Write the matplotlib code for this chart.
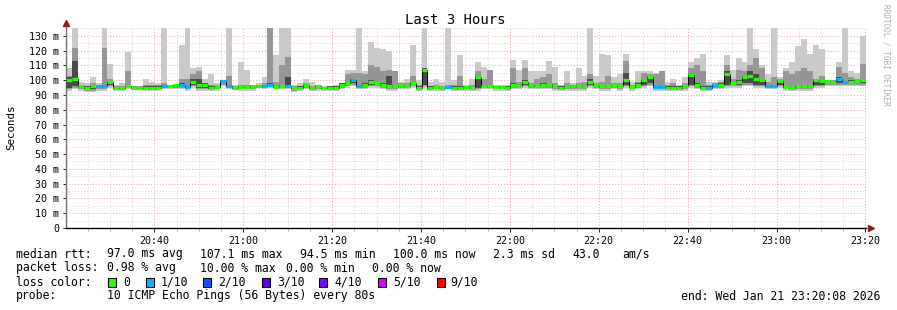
import numpy as np
import matplotlib
matplotlib.use("Agg")
import matplotlib.pyplot as plt
from matplotlib.patches import Rectangle

plt.rcParams['font.family'] = ['DejaVu Sans Mono']

# one sample every 80 s, 20:20:08 -> 23:20:08
step_min = 80 / 60.0
t_start = 20 * 60 + 20 + 8 / 60.0

# median rtt (ms)
med = [100, 101, 96, 95, 96, 96, 96, 98.5, 94.5, 94.5, 96, 95, 95, 95, 95, 95, 96, 96, 96.5, 97,
       95.5, 98.5, 97, 97, 95, 95.5, 99.5, 96, 95, 95.5, 95.5, 96, 96, 96, 97, 95.5, 96, 96, 94.5, 95,
       96.5, 94.5, 96, 94.5, 95, 95, 97, 98, 100, 96, 97, 99, 98, 97, 96, 96, 96.5, 96, 98, 95,
       107, 95, 95.5, 94.5, 95.5, 95, 94.5, 95.5, 94.5, 102, 96, 96, 95.5, 95.5, 95, 97, 96, 99, 96.5, 96,
       97, 97.5, 96, 95, 96, 96, 96, 96, 99, 96.5, 96, 96, 96.5, 96, 100, 95.5, 97, 100, 102.5, 95.5,
       95.5, 95, 95, 95, 96, 103.5, 97, 95, 95, 96.5, 97, 104, 98, 99, 102.5, 103, 101, 100, 96, 96,
       99.5, 95.5, 94.5, 96, 96, 96, 100, 99.5, 99.5, 98.5, 101, 98.5, 99, 99.5, 100]

# lost pings out of 10 per sample
loss = [0] * 135
for i in [5, 6, 16, 19, 20, 26, 27, 33, 34, 37, 48, 49, 64, 99, 100, 108, 109, 118, 119, 130, 131]:
    loss[i] = 1

# smoke: fastest ping, slowest ping, and two inner band tops
lo = [93, 94, 93, 92, 92, 93, 93, 95, 93, 93, 94, 94, 94, 93, 93, 93, 94, 94, 94, 94,
      93, 95, 93, 93, 93, 93, 96, 94, 94, 93, 93, 93, 95, 94, 95, 94, 94, 94, 92, 93,
      94, 93, 93, 93, 93, 93, 94, 95, 96, 94, 94, 95, 95, 94, 93, 93, 94, 94, 95, 93,
      95, 93, 93, 93, 94, 93, 93, 93, 93, 93, 94, 94, 93, 93, 93, 94, 94, 95, 94, 94,
      94, 94, 93, 93, 93, 93, 93, 93, 95, 94, 93, 93, 94, 93, 95, 93, 94, 95, 96, 93,
      93, 93, 93, 93, 93, 95, 94, 93, 93, 94, 94, 95, 95, 95, 96, 96, 95, 95, 94, 94,
      95, 93, 93, 93, 93, 93, 95, 95, 96, 96, 96, 96, 96, 96, 96]
hi = [108, 135, 99, 98, 102, 98, 135, 111, 97, 98, 119, 96, 96, 101, 99, 98, 135, 96, 97, 124,
      135, 108, 109, 101, 104, 98, 99, 135, 97, 112, 107, 97, 98, 102, 135, 117, 135, 135, 97, 98,
      101, 99, 97, 96, 96, 97, 98, 107, 107, 135, 106, 126, 122, 121, 120, 106, 99, 101, 124, 100,
      135, 99, 101, 99, 135, 100, 117, 97, 101, 112, 109, 107, 97, 97, 97, 114, 107, 114, 106, 106,
      106, 113, 109, 97, 106, 98, 108, 103, 135, 103, 118, 117, 102, 104, 118, 99, 106, 106, 106, 105,
      106, 99, 101, 97, 102, 112, 115, 118, 99, 99, 100, 117, 107, 115, 112, 135, 121, 110, 104, 135,
      102, 108, 112, 123, 128, 118, 124, 121, 100, 100, 112, 135, 106, 105, 130]
hi2 = [103, 122, 97, 96, 98, 97, 122, 101, 96, 96, 106, 96, 96, 97, 97, 97, 98, 96, 97, 101,
       101, 104, 106, 98, 97, 97, 99, 103, 96, 97, 97, 97, 97, 98, 135, 99, 110, 116, 96, 96,
       98, 96, 97, 95, 96, 96, 98, 104, 105, 105, 104, 110, 109, 106, 107, 106, 98, 98, 103, 97,
       108, 96, 97, 96, 97, 97, 103, 96, 97, 106, 101, 107, 96, 96, 96, 108, 99, 108, 98, 101,
       102, 104, 98, 96, 98, 97, 98, 99, 104, 98, 99, 103, 98, 98, 113, 97, 99, 105, 104, 104,
       106, 97, 98, 96, 98, 108, 110, 106, 97, 98, 99, 110, 101, 107, 106, 110, 115, 108, 99, 102,
       101, 106, 104, 106, 108, 106, 101, 103, 100, 100, 109, 105, 102, 101, 111]
hi3 = [102, 113, 97, 96, 97, 97, 97, 99, 95, 95, 97, 96, 96, 96, 96, 96, 97, 97, 97, 98,
       96, 101, 101, 98, 96, 96, 100, 97, 96, 96, 96, 97, 97, 97, 98, 96, 97, 102, 95, 96,
       97, 95, 97, 95, 96, 96, 98, 99, 101, 97, 98, 100, 99, 98, 103, 97, 97, 97, 99, 96,
       108, 96, 96, 95, 96, 96, 96, 96, 95, 103, 97, 97, 96, 96, 96, 98, 97, 100, 97, 97,
       98, 98, 97, 96, 97, 97, 97, 97, 101, 97, 97, 97, 97, 97, 105, 96, 98, 101, 103, 96,
       96, 96, 96, 96, 97, 104, 98, 96, 96, 97, 98, 106, 99, 100, 103, 106, 104, 101, 97, 97,
       100, 96, 95, 97, 97, 97, 101, 100, 100, 99, 102, 99, 100, 100, 100]

loss_colors = {0: '#26ff00', 1: '#00b8ff', 2: '#0059ff', 3: '#5e00ff',
               4: '#7e00ff', 5: '#dd00ff', 9: '#ff0000'}

W, H = 897, 310


def fx(x):
    return x / W


def fy(y):
    return 1 - y / H


fig = plt.figure(figsize=(W / 100, H / 100), dpi=100)
fig.patch.set_facecolor('white')
ax = fig.add_axes([fx(66), fy(228), 800 / W, 201 / H])

n = len(med)
left = t_start + np.arange(n) * step_min
med_a = np.array(med)
lo_a = np.array(lo)

ax.set_xlim(t_start, t_start + n * step_min)
ax.set_ylim(0, 136)

# grid
for v in range(5, 136, 10):
    ax.axhline(v, color='#d4d4d4', lw=0.7, ls=(0, (1, 2)), zorder=0)
for v in range(10, 136, 10):
    ax.axhline(v, color='#f2a0a0', lw=0.7, ls=(0, (1, 2)), zorder=0)
for m in range(1225, 1401, 5):
    if m % 20 == 0:
        ax.axvline(m, color='#f2a0a0', lw=0.7, ls=(0, (1, 2)), zorder=0)
    else:
        ax.axvline(m, color='#d4d4d4', lw=0.7, ls=(0, (1, 2)), zorder=0)

# smoke
ax.bar(left, np.array(hi) - lo_a, bottom=lo_a, width=step_min, align='edge',
       color='#cacaca', lw=0, zorder=1)
ax.bar(left, np.array(hi2) - (lo_a + 1), bottom=lo_a + 1, width=step_min, align='edge',
       color='#969696', lw=0, zorder=2)
ax.bar(left, np.array(hi3) - (lo_a + 2), bottom=lo_a + 2, width=step_min, align='edge',
       color='#4a4a4a', lw=0, zorder=3)

# median
ax.step(np.append(left, left[-1] + step_min), np.append(med_a, med_a[-1]), where='post',
        color='black', lw=0.7, zorder=4)
ax.hlines(med_a, left, left + step_min, colors=[loss_colors[l] for l in loss],
          lw=2.3, zorder=5)

# axes styling
for s in ['top', 'right']:
    ax.spines[s].set_visible(False)
ax.spines['left'].set_color('#707070')
ax.spines['bottom'].set_color('black')
ax.spines['left'].set_linewidth(1)
ax.spines['bottom'].set_linewidth(1)

yt = list(range(0, 131, 10))
ax.set_yticks(yt)
ax.set_yticklabels(['0'] + ['%d m' % v for v in yt[1:]])
xt = list(range(1240, 1401, 20))
ax.set_xticks(xt)
ax.set_xticklabels(['%02d:%02d' % (m // 60, m % 60) for m in xt])
ax.set_xticks(list(range(1225, 1401, 5)), minor=True)
ax.tick_params(axis='both', labelsize=7.2, colors='black', length=3, width=0.6, pad=3)
ax.tick_params(axis='x', which='minor', length=2, width=0.5, color='#999999')
ax.tick_params(axis='y', length=2)

ax.plot([0], [1.02], marker='^', ms=5, color='#8b1a1a', transform=ax.transAxes, clip_on=False)
ax.plot([1.006], [0], marker='>', ms=5, color='#8b1a1a', transform=ax.transAxes, clip_on=False)

# labels
fig.text(fx(455), fy(20), 'Last 3 Hours', ha='center', va='center', fontsize=10)
fig.text(fx(11), fy(127), 'Seconds', ha='center', va='center', rotation=90, fontsize=7.8)
fig.text(fx(886), fy(4), 'RRDTOOL / TOBI OETIKER', ha='center', va='top', rotation=270,
         fontsize=5.6, color='#b0b0b0')

fs = 8.3
rows = [
    (254, [(16, 'median rtt:'), (107, '97.0 ms avg'), (200, '107.1 ms max'), (300, '94.5 ms min'),
           (393, '100.0 ms now'), (493, '2.3 ms sd'), (572, '43.0'), (622, 'am/s')]),
    (268, [(16, 'packet loss:'), (107, '0.98 % avg'), (200, '10.00 % max'), (286, '0.00 % min'),
           (372, '0.00 % now')]),
    (282, [(16, 'loss color:'), (123, '0'), (161, '1/10'), (218, '2/10'), (277, '3/10'),
           (334, '4/10'), (393, '5/10'), (450, '9/10')]),
    (296, [(16, 'probe:'), (107, '10 ICMP Echo Pings (56 Bytes) every 80s')]),
]
for y, items in rows:
    for x, s in items:
        fig.text(fx(x), fy(y), s, ha='left', va='center', fontsize=fs)
fig.text(fx(880), fy(296), 'end: Wed Jan 21 23:20:08 2026', ha='right', va='center', fontsize=fs)

box_x = [108, 146, 203, 262, 319, 378, 437]
for bx, key in zip(box_x, [0, 1, 2, 3, 4, 5, 9]):
    fig.patches.append(Rectangle((fx(bx), fy(287)), 8 / W, 9 / H, transform=fig.transFigure,
                                 facecolor=loss_colors[key], edgecolor='black', lw=0.8))

fig.savefig('out.png', dpi=100)
